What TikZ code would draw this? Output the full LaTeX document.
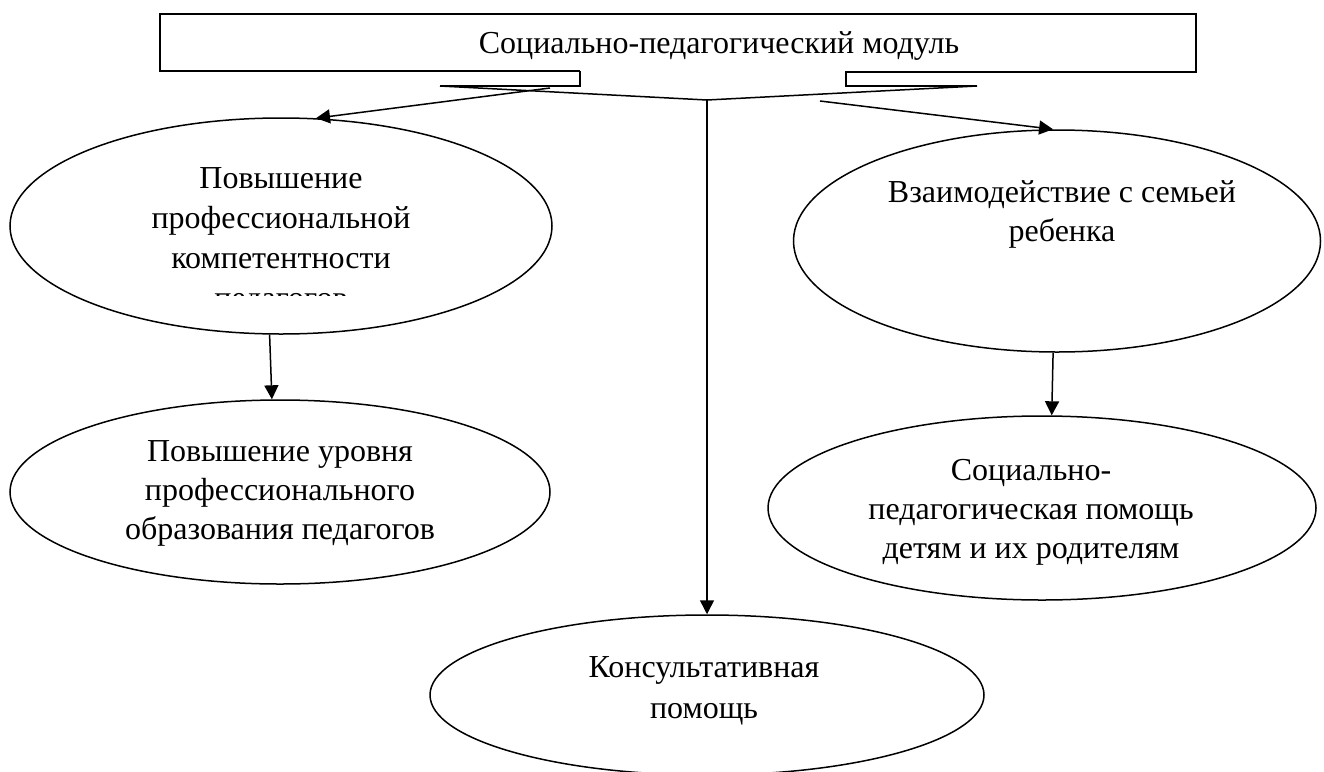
\documentclass[tikz,border=0pt]{standalone}
\usepackage{fontspec}
\setmainfont{Liberation Serif}
\usetikzlibrary{shapes.geometric,arrows.meta}
\begin{document}
\begin{tikzpicture}[x=1pt,y=-1pt,
  line width=1.5pt,
  ell/.style={draw,ellipse,inner sep=0pt},
  lbl/.style={font=\fontsize{32}{40}\selectfont, inner sep=0pt, anchor=base},
  arr/.style={-{Triangle[length=14pt,width=14pt]}}
]
\useasboundingbox (0,0) rectangle (1324,771);

% top box
\node[inner sep=0pt, minimum width=1036pt, minimum height=57pt] (top) at (678,42.5) {};
\draw (580,71) -- (160,71) -- (160,14) -- (1196,14) -- (1196,72) -- (846,72) -- (846,86) -- (977,86);
\draw (580,71) -- (580,86) -- (440,86);
\node[lbl] (title) at (719,53) {Социально-педагогический модуль};

% brace
\coordinate (bl) at (440,86);
\coordinate (bj) at (707,100);
\coordinate (br) at (977,86);
\draw (bl) -- (bj) -- (br);
\coordinate (al) at (550,88);
\coordinate (ar) at (820,101);

% ellipses
\node[ell, minimum width=542pt, minimum height=216pt] (e1) at (281,226) {};
\node[ell, minimum width=540pt, minimum height=184pt] (e2) at (280,492) {};
\node[ell, minimum width=527pt, minimum height=222pt] (e3) at (1057,241) {};
\node[ell, minimum width=548pt, minimum height=184pt] (e4) at (1042,508) {};
\begin{scope}
\clip (0,0) rectangle (1324,771);
\node[ell, minimum width=554pt, minimum height=160pt] (e5) at (707,695) {};
\end{scope}

% texts
\node[lbl] (t1a) at (281,188) {Повышение};
\node[lbl] (t1b) at (281,228) {профессиональной};
\node[lbl] (t1c) at (281,268) {компетентности};
\begin{scope}
\clip (0,0) rectangle (1324,295.8);
\node[lbl] (t1d) at (281,308) {педагогов};
\end{scope}

\node[lbl] (t2a) at (280,461) {Повышение уровня};
\node[lbl] (t2b) at (280,500) {профессионального};
\node[lbl] (t2c) at (280,539) {образования педагогов};

\node[lbl] (t3a) at (1062,202) {Взаимодействие с семьей};
\node[lbl] (t3b) at (1062,241) {ребенка};

\node[lbl] (t4a) at (1031,480) {Социально-};
\node[lbl] (t4b) at (1031,519) {педагогическая помощь};
\node[lbl] (t4c) at (1031,558) {детям и их родителям};

\node[lbl] (t5a) at (704,677) {Консультативная};
\node[lbl] (t5b) at (704,718) {помощь};

% connectors
\draw[arr] (al) -- (e1.72);
\draw[arr] (ar) -- (e3.92);
\draw[arr] (bj) -- (e5.north);
\draw[arr] (e1.264) -- (e2.95);
\draw[arr] (e3.268) -- (e4.84);
\end{tikzpicture}
\end{document}
